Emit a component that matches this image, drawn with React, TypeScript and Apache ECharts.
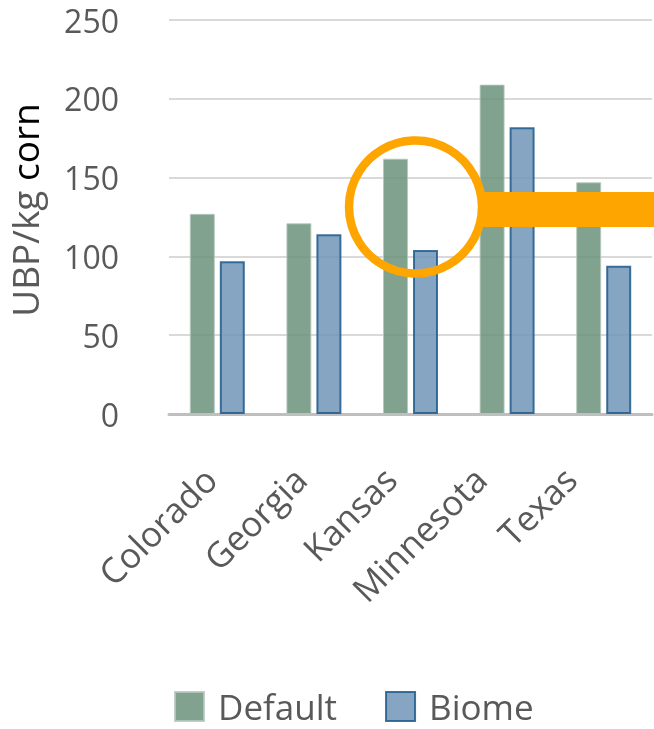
import React, { useEffect, useRef } from "react";
import * as echarts from "echarts";

// Corn impact per state, two characterisation approaches
const states = ["Colorado", "Georgia", "Kansas", "Minnesota", "Texas"];
const defaultValues = [127, 121, 162, 209, 147];
const biomeValues = [97, 114, 104, 182, 94];
const seriesNames = ["Default", "Biome"];

const FONT = "'Open Sans', 'Noto Sans', sans-serif";
const GREY = "#595959";
const ORANGE = "#FFA500";

export default function App() {
  const ref = useRef<HTMLDivElement>(null);

  useEffect(() => {
    if (!ref.current) return;
    const chart = echarts.init(ref.current, undefined, { renderer: "svg" });

    chart.setOption({
      animation: false,
      textStyle: { fontFamily: FONT },
      grid: [
        { left: 169, right: 2, top: 20, bottom: 315 },
        // label strip for the state names
        { left: 165, right: 39, top: 20, bottom: 315 },
      ],
      xAxis: [
        {
          type: "category",
          gridIndex: 0,
          data: states,
          axisLine: { lineStyle: { color: "#bfbfbf", width: 3 } },
          axisTick: { show: false },
          axisLabel: { show: false },
        },
        {
          type: "category",
          gridIndex: 1,
          data: states,
          axisLine: { show: false },
          axisTick: { show: false },
          axisLabel: {
            rotate: 45,
            margin: 59,
            color: GREY,
            fontSize: 35,
            fontFamily: FONT,
          },
        },
      ],
      yAxis: [
        {
          type: "value",
          gridIndex: 0,
          min: 0,
          max: 250,
          interval: 50,
          axisLine: { show: false },
          axisTick: { show: false },
          axisLabel: {
            margin: 50,
            color: GREY,
            fontSize: 32,
            fontFamily: FONT,
          },
          splitLine: { lineStyle: { color: "#d9d9d9", width: 2 } },
        },
        {
          type: "value",
          gridIndex: 1,
          show: false,
          min: 0,
          max: 250,
        },
      ],
      legend: {
        data: seriesNames,
        left: 174,
        top: 689,
        padding: 0,
        itemWidth: 29,
        itemHeight: 29,
        itemGap: 48,
        icon: "rect",
        textStyle: {
          color: GREY,
          fontSize: 35,
          lineHeight: 35,
          fontFamily: FONT,
          padding: [0, 0, 0, 9],
        },
      },
      series: [
        {
          name: seriesNames[0],
          type: "bar",
          xAxisIndex: 0,
          yAxisIndex: 0,
          data: defaultValues,
          barWidth: 25,
          barGap: "20%",
          itemStyle: {
            color: "#6b927a",
            opacity: 0.85,
            borderColor: "#b7c9bd",
            borderWidth: 1,
          },
        },
        {
          name: seriesNames[1],
          type: "bar",
          xAxisIndex: 0,
          yAxisIndex: 0,
          data: biomeValues,
          barWidth: 25,
          barGap: "20%",
          itemStyle: {
            color: "#7195b8",
            opacity: 0.85,
            borderColor: "#1f5a8c",
            borderWidth: 2,
          },
        },
      ],
      graphic: [
        {
          type: "text",
          x: 24,
          y: 210,
          rotation: Math.PI / 2,
          z: 50,
          style: {
            text: "{a|UBP/kg }{b|corn}",
            align: "center",
            verticalAlign: "middle",
            rich: {
              a: { fontSize: 37, fontFamily: FONT, fill: GREY },
              b: { fontSize: 37, fontFamily: FONT, fill: "#000000" },
            },
          },
        },
        {
          type: "rect",
          z: 100,
          shape: { x: 480, y: 192, width: 174, height: 35 },
          style: { fill: ORANGE },
        },
        {
          type: "circle",
          z: 101,
          shape: { cx: 415.5, cy: 207, r: 66.5 },
          style: { fill: "none", stroke: ORANGE, lineWidth: 8.5 },
        },
      ],
    });

    return () => chart.dispose();
  }, []);

  return (
    <div
      ref={ref}
      style={{ position: "fixed", left: 0, top: 0, width: 654, height: 729 }}
    />
  );
}
